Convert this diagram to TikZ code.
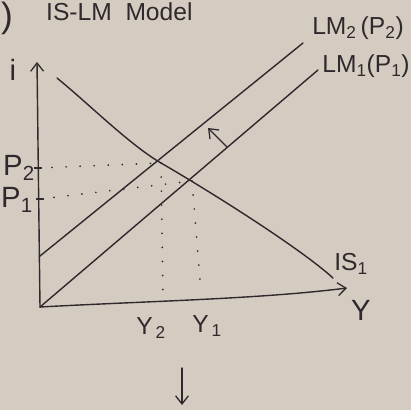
\documentclass[tikz,border=0pt]{standalone}
\usepackage{fontspec}
\setmainfont{Liberation Sans}
\usetikzlibrary{positioning,arrows.meta}
\definecolor{paper}{RGB}{213,204,193}
\definecolor{ink}{RGB}{48,40,44}

\begin{document}
\begin{tikzpicture}[x=0.03cm, y=-0.03cm, every node/.style={text=ink, inner sep=0pt},
        >={Straight Barb[length=7pt, width=11pt, line width=1.1pt]},
        pen/.style={draw=ink, line width=1.2pt, line cap=round, line join=round},
        dots/.style={draw=ink, line width=1.6pt, line cap=round, dash pattern=on 0pt off 12pt},
        lbl/.style={font=\fontsize{21}{21}\selectfont},
        biglbl/.style={font=\fontsize{25}{25}\selectfont}]
        \fill[paper] (0,0) rectangle (411,410);
        \useasboundingbox (0,0) rectangle (411,410);

        \node[lbl, anchor=north west] (title) at (46,2) {IS-LM\ \ Model};
        \node[font=\fontsize{30}{30}\selectfont, anchor=north west] (paren) at (1,2) {)};

        \coordinate (O) at (40,307);
        \coordinate (itop) at (37,62);
        \coordinate (yend) at (347,288);
        \draw[pen, ->] (O) -- (itop);
        \draw[pen, ->] (O) .. controls (150,301) and (260,299) .. (yend);
        \node[biglbl] (ilab) at (13,70) {i};
        \node[biglbl] (Ylab) at (361,310) {Y};

        \coordinate (E2) at (161,163);
        \coordinate (E1) at (192,181);
        \coordinate (lm2a) at (40,256);
        \coordinate (lm2b) at (303,43);
        \coordinate (lm1b) at (318,70);
        \coordinate (is0) at (57,78);
        \coordinate (is1) at (333,278);
        \draw[pen] (lm2a) -- (lm2b);
        \draw[pen] (O) -- (lm1b);
        \draw[pen] (is0) .. controls (90,105) and (130,145) .. (E2)
            .. controls (211,192) and (300,248) .. (is1);
        \node[lbl] (lm2lab) at (358,28) {LM\textsubscript{2}\,(P\textsubscript{2})};
        \node[lbl] (lm1lab) at (366,66) {LM\textsubscript{1}(P\textsubscript{1})};
        \node[lbl] (islab) at (351,264) {IS\textsubscript{1}};

        \coordinate (p2) at (38,168);
        \coordinate (p1) at (40,199);
        \coordinate (y2) at (163,300);
        \coordinate (y1) at (201,292);
        \draw[pen] ([xshift=-3]p2) -- ([xshift=3]p2);
        \draw[pen] ([xshift=-3]p1) -- ([xshift=3]p1);
        \draw[dots] (p2) -- (E2);
        \draw[dots] (p1) -- (E1);
        \draw[dots] (E2) -- (y2);
        \draw[dots] (E1) -- (y1);
        \node[biglbl] (p2lab) at (19,168) {P\textsubscript{2}};
        \node[biglbl] (p1lab) at (17,200) {P\textsubscript{1}};
        \node[lbl] (y2lab) at (151,328) {Y\textsubscript{\,2}};
        \node[lbl] (y1lab) at (207,326) {Y\textsubscript{\,1}};

        \coordinate (sh0) at (227,147);
        \coordinate (sh1) at (208,128);
        \draw[pen, ->] (sh0) -- (sh1);
        \coordinate (dn0) at (182,368);
        \coordinate (dn1) at (182,405);
        \draw[pen, ->] (dn0) -- (dn1);
    \end{tikzpicture}
\end{document}
